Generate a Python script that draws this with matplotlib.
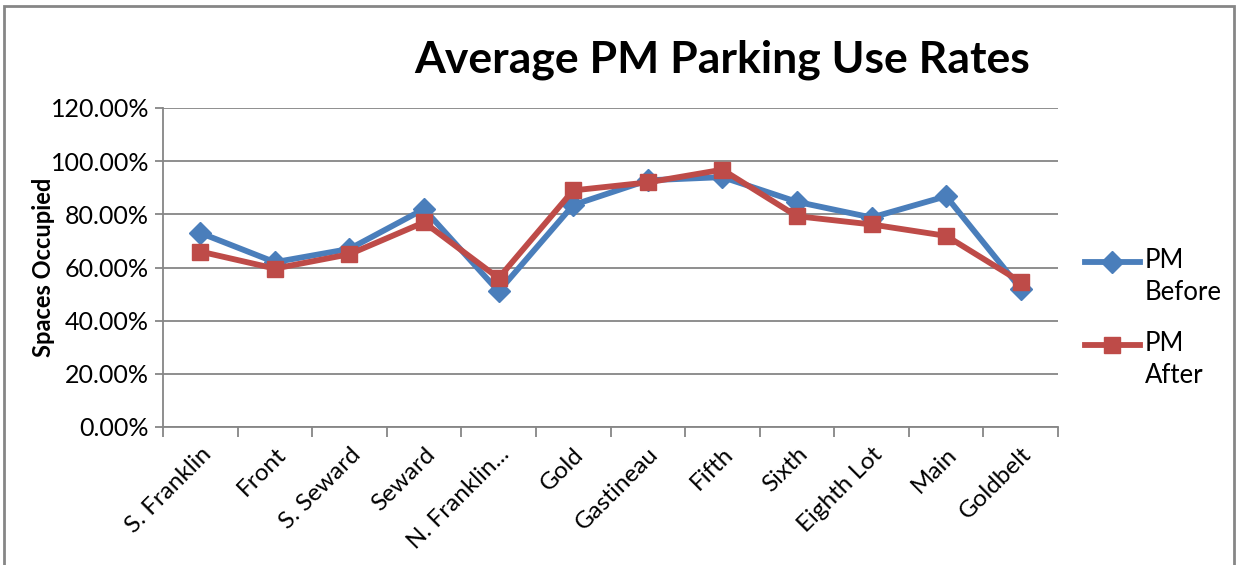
import matplotlib.pyplot as plt
from matplotlib.patches import Rectangle
from matplotlib.lines import Line2D
from matplotlib.ticker import FuncFormatter, FixedLocator
import numpy as np

plt.rcParams['font.family'] = ['Lato', 'DejaVu Sans']

categories = ["S. Franklin", "Front", "S. Seward", "Seward", "N. Franklin...", "Gold",
              "Gastineau", "Fifth", "Sixth", "Eighth Lot", "Main", "Goldbelt"]
pm_before = [73.0, 62.0, 67.0, 82.0, 51.0, 83.5, 92.8, 94.0, 84.7, 78.8, 86.8, 52.0]
pm_after = [66.0, 59.6, 65.0, 77.0, 56.0, 89.0, 92.0, 96.8, 79.3, 76.2, 71.9, 54.6]
y_ticks = [0, 20, 40, 60, 80, 100, 120]
series_names = ["PM\nBefore", "PM\nAfter"]

blue = "#4A7EBB"
red = "#BE4B48"
grey = "#868686"

fig = plt.figure(figsize=(12.37, 5.65), dpi=100)
ax = fig.add_axes([163 / 1237, 1 - 427 / 565, (1058 - 163) / 1237, (427 - 108) / 565])

# chart border
fig.patches.append(Rectangle((4 / 1237, -0.05), 1230 / 1237, 1.05 - 6 / 565,
                             transform=fig.transFigure, fill=False,
                             edgecolor=grey, linewidth=2))

x = np.arange(len(categories))
ax.plot(x, pm_before, color=blue, lw=4.2, marker="D", markersize=11, zorder=3)
ax.plot(x, pm_after, color=red, lw=4.2, marker="s", markersize=12, zorder=4)

ax.set_xlim(-0.5, len(categories) - 0.5)
ax.set_ylim(0, 120)
ax.set_yticks(y_ticks)
ax.yaxis.set_major_formatter(FuncFormatter(lambda v, p: f"{v:.2f}%"))
ax.grid(axis="y", color=grey, lw=1.3)
ax.set_axisbelow(True)

ax.set_xticks(x)
ax.set_xticklabels(categories, rotation=45, ha="right", rotation_mode="anchor",
                   fontsize=17.5)
ax.tick_params(axis="x", length=0, pad=12)
ax.xaxis.set_minor_locator(FixedLocator(np.arange(-0.5, len(categories), 1)))
ax.tick_params(axis="x", which="minor", length=7, width=1.3, color=grey, direction="out")
ax.tick_params(axis="y", length=6, width=1.3, color=grey, labelsize=18, pad=4)

for s in ["top", "right"]:
    ax.spines[s].set_visible(False)
for s in ["left", "bottom"]:
    ax.spines[s].set_color(grey)
    ax.spines[s].set_linewidth(1.3)

ax.set_ylabel("Spaces Occupied", fontsize=17, fontweight="bold")
ax.yaxis.set_label_coords(-0.121, 0.5)

fig.text(722 / 1237, 1 - 60 / 565, "Average PM Parking Use Rates", fontsize=32,
         fontweight="bold", ha="center", va="center")

# legend drawn by hand so the handle sits on the first text line
for (ypix, color, marker, ms), name in zip([(262, blue, "D", 11), (345, red, "s", 12)],
                                           series_names):
    yf = 1 - ypix / 565
    fig.add_artist(Line2D([1085 / 1237, 1140 / 1237], [yf, yf], color=color, lw=4.2,
                          transform=fig.transFigure))
    fig.add_artist(Line2D([1112 / 1237], [yf], color=color, marker=marker,
                          markersize=ms, transform=fig.transFigure))
    fig.text(1145 / 1237, yf + 14 / 565, name, fontsize=18.5, ha="left", va="top",
             linespacing=1.35)

fig.savefig("out.png", dpi=100)
